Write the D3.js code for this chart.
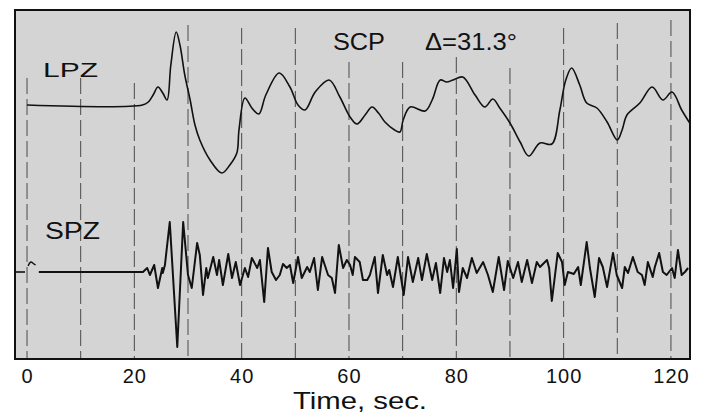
<!DOCTYPE html>
<meta charset="utf-8">
<style>
body { margin: 0; background: #fff; }
.label { font-family: "Liberation Sans", Arial, sans-serif; fill: #111; }
.grid { stroke: #4a4a4a; stroke-width: 1; stroke-dasharray: 16,5; }
.trace { fill: none; stroke: #111; stroke-linejoin: round; }
</style>
<body>
<script src="https://d3js.org/d3.v7.min.js"></script>
<script>
// seconds on the record, deflection in trace units (0 = trace rest level)
var gridTimes = [0, 10, 20, 30, 40, 50, 60, 70, 80, 90, 100, 110, 120];
var gridTops = [27, 27, 22, 80, 77, 77, 43, 43, 48, 37, 77, 82, 85];
var tickValues = [0, 20, 40, 60, 80, 100, 120];

var lpzTime = [0, 21.5, 22.6, 23.5, 24.4, 25.3, 26.1, 26.8, 27.8, 28.5, 29.4, 30.4, 31.3, 32.2, 34.1, 36.3, 37.8, 39.1, 39.5, 40.6,
  41.9, 43.2, 44.5, 47.0, 49.0, 50.5, 51.8, 53.7, 56.3, 58.3, 60.2, 61.5, 63.0, 64.3, 65.5, 66.7, 68.5, 69.5, 70.1, 71.4,
  74.2, 75.5, 77.0, 78.2, 79.4, 81.2, 83.5, 85.3, 86.8, 88.1, 90.0, 91.9, 93.5, 95.6, 97.8, 99.3, 100.4, 101.5, 103.0, 104.3,
  106.2, 108.1, 110.0, 110.9, 111.8, 114.2, 116.5, 118.5, 120.2, 122.0, 123.5];
var lpzValue = [0, 0, 3, 10, 18, 12, 5, 40, 73, 60, 30, 5, -20, -35, -55, -68, -60, -48, -25, 7,
  -3, -9, 10, 32, 18, 0, -5, 13, 25, 8, -12, -19, -10, -2, -8, -17, -25, -27, -15, -2,
  -6, 5, 25, 23, 25, 28, 10, -2, 6, -3, -18, -37, -51, -38, -39, -5, 25, 37, 20, 2,
  -3, -17, -35, -25, -10, 2, 18, 5, 13, -5, -18];

var spzStubTime = [-2.24, -0.37];
var spzStubValue = [0, 0];
var spzMarkTime = [0.2, 0.7, 1.3, 1.6];
var spzMarkValue = [6, 10, 8, 7];

var spzTime = [2.2, 21.6, 22.4, 22.9, 23.7, 24.4, 25.2, 25.3, 25.7, 26.6, 28.0, 29.1, 30.0, 30.7, 31.7, 32.2, 32.8, 33.4, 33.7, 34.7,
  35.4, 35.8, 36.5, 37.5, 38.2, 38.9, 39.7, 40.6, 41.2, 41.9, 42.9, 43.4, 44.2, 44.9, 45.6, 46.4, 47.1, 47.7, 48.4, 49.0,
  49.6, 50.5, 51.2, 52.2, 52.7, 53.5, 54.2, 55.0, 56.1, 56.8, 57.4, 58.1, 58.9, 59.6, 60.2, 60.7, 61.1, 62.0, 62.6, 63.4,
  63.9, 64.8, 65.4, 66.3, 67.1, 67.5, 68.2, 69.1, 70.2, 71.0, 71.9, 72.9, 73.6, 74.5, 75.5, 76.2, 77.0, 77.7, 78.3, 78.8,
  79.4, 80.1, 80.5, 81.2, 82.0, 82.9, 83.8, 85.0, 85.9, 86.8, 87.9, 88.9, 89.6, 90.6, 91.5, 92.2, 93.2, 94.1, 95.0, 95.6,
  96.9, 97.3, 97.8, 98.9, 99.7, 100.2, 100.8, 101.9, 102.7, 103.2, 104.3, 104.9, 105.8, 106.6, 107.3, 108.1, 109.2, 109.9, 110.9, 111.4,
  112.0, 112.9, 113.8, 114.6, 115.1, 115.7, 116.6, 117.0, 117.8, 118.5, 119.2, 120.2, 120.7, 121.3, 122.0, 122.6, 123.2];
var spzValue = [0, 0, 4, -3, 7, -16, 4, -1, 7, 50, -75, 50, -3, -16, 29, 17, -23, 4, -6, 15,
  -3, 12, -13, 18, -6, 10, -13, 4, -5, 14, 4, 12, -30, 24, 0, -8, -3, 8, 4, 7,
  -11, 15, -6, 5, 0, 14, -18, 15, -3, -6, -21, 27, 4, 12, 7, -3, 15, 10, -8, -8,
  -3, 15, -21, 17, -3, 2, -15, 15, -23, 15, -10, 14, -8, 18, -8, 9, -21, 14, 0, 12,
  -16, 23, -20, 4, -6, 14, -1, 10, -3, -20, 15, -18, 11, -6, 10, -10, 12, -11, 10, 5,
  12, 4, -29, 19, 10, -13, 0, -2, 5, -13, 30, 4, -25, 14, 5, -15, 19, -3, -16, 5,
  -1, 15, 0, -3, -13, 10, -5, 5, 19, 0, -3, 4, -6, 22, -3, 0, 4];

var width = 709, height = 416;
var plot = {left: 15, top: 10, right: 690, bottom: 359};
var lpzOffset = 0, spzOffset = -167;

var x = d3.scaleLinear().domain([-2.24, 123.55]).range([plot.left, plot.right]);
var y = d3.scaleLinear().domain([-254, 95]).range([plot.bottom, plot.top]);

var svg = d3.select("body").append("svg")
    .attr("width", width)
    .attr("height", height);

svg.append("defs").append("clipPath")
    .attr("id", "clip")
  .append("rect")
    .attr("x", plot.left)
    .attr("y", plot.top)
    .attr("width", plot.right - plot.left)
    .attr("height", plot.bottom - plot.top);

svg.append("rect")
    .attr("x", plot.left)
    .attr("y", plot.top)
    .attr("width", plot.right - plot.left)
    .attr("height", plot.bottom - plot.top)
    .attr("fill", "#d4d4d4");

svg.selectAll(".grid")
    .data(gridTimes)
  .enter().append("line")
    .attr("class", "grid")
    .attr("x1", function(d) { return x(d); })
    .attr("x2", function(d) { return x(d); })
    .attr("y1", function(d, i) { return y(gridTops[i]); })
    .attr("y2", plot.bottom);

function pairs(ts, vs, off) {
  return ts.map(function(t, i) { return [t, vs[i] + off]; });
}

var smooth = d3.line()
    .x(function(d) { return x(d[0]); })
    .y(function(d) { return y(d[1]); })
    .curve(d3.curveCatmullRom.alpha(0.5));

var sharp = d3.line()
    .x(function(d) { return x(d[0]); })
    .y(function(d) { return y(d[1]); });

var traces = svg.append("g").attr("clip-path", "url(#clip)");

traces.append("path")
    .attr("class", "trace")
    .attr("stroke-width", 1.6)
    .attr("d", smooth(pairs(lpzTime, lpzValue, lpzOffset)));

traces.append("path")
    .attr("class", "trace")
    .attr("stroke-width", 1.6)
    .attr("d", sharp(pairs(spzStubTime, spzStubValue, spzOffset)));

traces.append("path")
    .attr("class", "trace")
    .attr("stroke-width", 1.4)
    .attr("d", smooth(pairs(spzMarkTime, spzMarkValue, spzOffset)));

traces.append("path")
    .attr("class", "trace")
    .attr("stroke-width", 2)
    .attr("d", sharp(pairs(spzTime, spzValue, spzOffset)));

svg.append("rect")
    .attr("x", plot.left)
    .attr("y", plot.top)
    .attr("width", plot.right - plot.left)
    .attr("height", plot.bottom - plot.top)
    .attr("fill", "none")
    .attr("stroke", "#111")
    .attr("stroke-width", 2);

var xAxis = d3.axisBottom(x)
    .tickValues(tickValues)
    .tickSize(0)
    .tickPadding(10);

var gx = svg.append("g")
    .attr("transform", "translate(0," + plot.bottom + ")")
    .call(xAxis);
gx.select(".domain").remove();
gx.selectAll("text")
    .attr("class", "label")
    .attr("fill", "#111")
    .style("font-size", "20px")
    .style("letter-spacing", "1px");

function label(txt, lx, ly, size, len) {
  svg.append("text")
      .attr("class", "label")
      .attr("x", lx)
      .attr("y", ly)
      .attr("textLength", len)
      .attr("lengthAdjust", "spacingAndGlyphs")
      .style("font-size", size + "px")
      .text(txt);
}

label("LPZ", 43, 77, 21, 55);
label("SPZ", 45, 239, 24, 55);
label("SCP", 333, 50, 24, 52);
label("\u0394=31.3\u00b0", 425, 50, 24, 92);

svg.append("text")
    .attr("class", "label")
    .attr("x", 293)
    .attr("y", 409)
    .attr("textLength", 134)
    .attr("lengthAdjust", "spacingAndGlyphs")
    .style("font-size", "24px")
    .text("Time,  sec.");
</script>
